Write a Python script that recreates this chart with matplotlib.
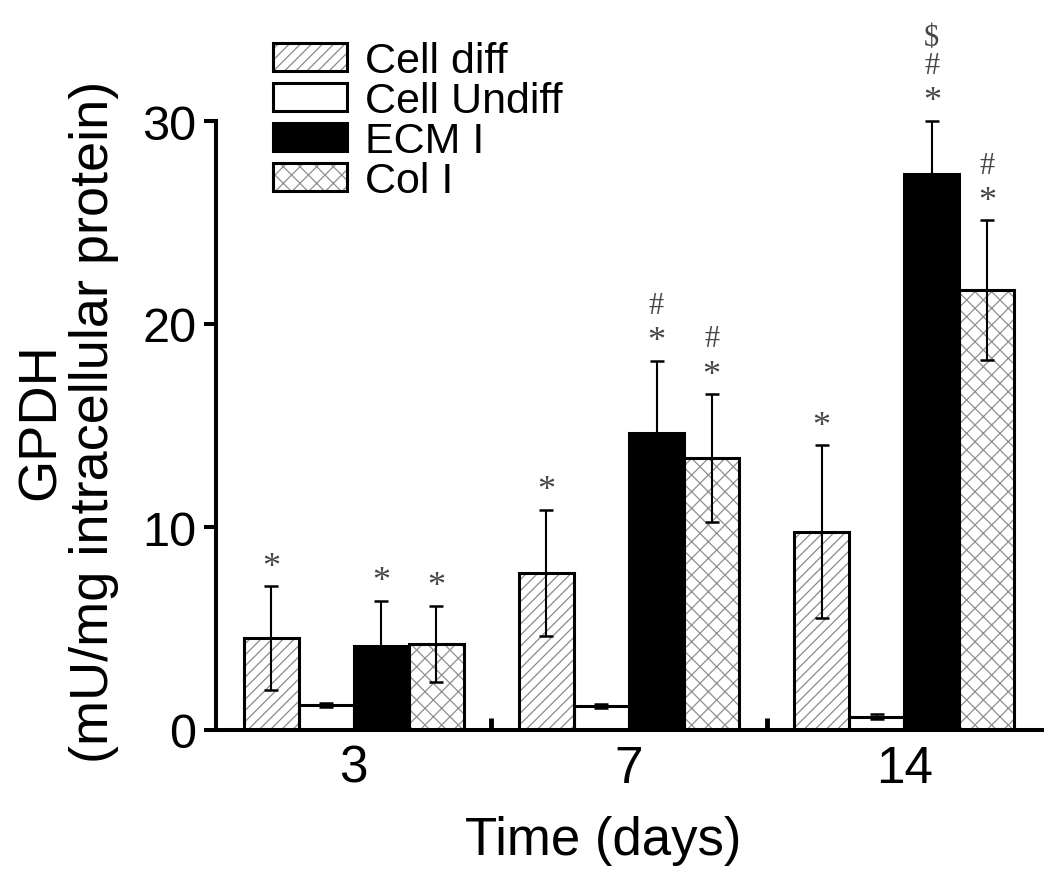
import matplotlib
matplotlib.use("Agg")
import matplotlib.pyplot as plt
from matplotlib.patches import Patch
import numpy as np

plt.rcParams['font.family'] = ['Liberation Sans', 'DejaVu Sans']
plt.rcParams['hatch.linewidth'] = 0.9

# ---- data ----
days = ['3', '7', '14']
series = ['Cell diff', 'Cell Undiff', 'ECM I', 'Col I']
cell_diff = [4.52, 7.73, 9.77]
cell_diff_sd = [2.55, 3.12, 4.26]
cell_undiff = [1.23, 1.17, 0.66]
cell_undiff_sd = [0.12, 0.10, 0.12]
ecm_i = [4.15, 14.63, 27.39]
ecm_i_sd = [2.22, 3.56, 2.62]
col_i = [4.24, 13.40, 21.67]
col_i_sd = [1.89, 3.14, 3.43]
sig_cell_diff = ['*', '*', '*']
sig_cell_undiff = ['', '', '']
sig_ecm_i = ['*', '*#', '*#$']
sig_col_i = ['*', '*#', '*#']

means = [cell_diff, cell_undiff, ecm_i, col_i]
sds = [cell_diff_sd, cell_undiff_sd, ecm_i_sd, col_i_sd]
sigs = [sig_cell_diff, sig_cell_undiff, sig_ecm_i, sig_col_i]

# ---- styles ----
face = ['white', 'white', 'black', 'white']
hatch = ['///', None, None, 'xx']
hatch_col = ['#8a8a8a', 'black', 'black', '#8f8f8f']
sym_size = {'*': 26, '#': 22, '$': 22}
sym_off = [7.5, 34.5, 54.5]

fig = plt.figure(figsize=(10.63, 8.78), dpi=100)
ax = fig.add_axes([216/1063, 1-731/878, 826/1063, 609/878])

n_groups = len(days)
group_w = 5
for k in range(4):
    xs = np.arange(n_groups) * group_w + 1 + k
    ax.bar(xs, means[k], width=1.0, color=face[k], hatch=hatch[k],
           edgecolor=hatch_col[k], linewidth=0, zorder=1)
    ax.bar(xs, means[k], width=1.0, color='none', edgecolor='black',
           linewidth=2.2, zorder=2)
    ax.errorbar(xs, means[k], yerr=sds[k], fmt='none', ecolor='black',
                elinewidth=1.5, capsize=4.7, capthick=1.8, zorder=3,
                clip_on=False)
    for x, m, s, lab in zip(xs, means[k], sds[k], sigs[k]):
        for j, ch in enumerate(lab):
            ax.annotate(ch, xy=(x, m + s), xytext=(0, sym_off[j]),
                        textcoords='offset points', ha='center',
                        va='baseline', fontsize=sym_size[ch],
                        color='#474747',
                        family=['Liberation Serif', 'DejaVu Serif'],
                        annotation_clip=False, zorder=4)

ax.set_xlim(0, n_groups * group_w)
ax.set_ylim(0, 30)
ax.set_xticks(np.arange(n_groups) * group_w + 2.5)
ax.set_xticklabels(days, fontsize=37)
ax.set_xticks([5, 10], minor=True)
ax.tick_params(axis='x', which='major', length=0, pad=10)
ax.tick_params(axis='x', which='minor', direction='in', length=9, width=3.5)
ax.set_yticks([0, 10, 20, 30])
ax.tick_params(axis='y', which='major', direction='out', length=9,
               width=2.9, labelsize=35, pad=5)

for s in ['top', 'right']:
    ax.spines[s].set_visible(False)
for s in ['left', 'bottom']:
    ax.spines[s].set_linewidth(2.9)

ax.set_xlabel('Time (days)', fontsize=38)
ax.xaxis.set_label_coords(0.4685, -0.1396)
ax.set_ylabel('GPDH\n(mU/mg intracellular protein)', fontsize=39,
              linespacing=1.1)
ax.yaxis.set_label_coords(-0.117, 0.508)

handles = []
for k in range(4):
    h1 = Patch(facecolor=face[k], hatch=hatch[k], edgecolor=hatch_col[k],
               linewidth=0)
    h2 = Patch(facecolor='none', edgecolor='black', linewidth=2.2)
    handles.append((h1, h2))
fig.legend(handles, series, loc='upper left',
           bbox_to_anchor=(273/1063, 1-42/878), frameon=False,
           borderpad=0, borderaxespad=0, handlelength=1.72,
           handleheight=0.63, handletextpad=0.42, labelspacing=0.0,
           fontsize=31)

fig.savefig('out.png', dpi=100)
